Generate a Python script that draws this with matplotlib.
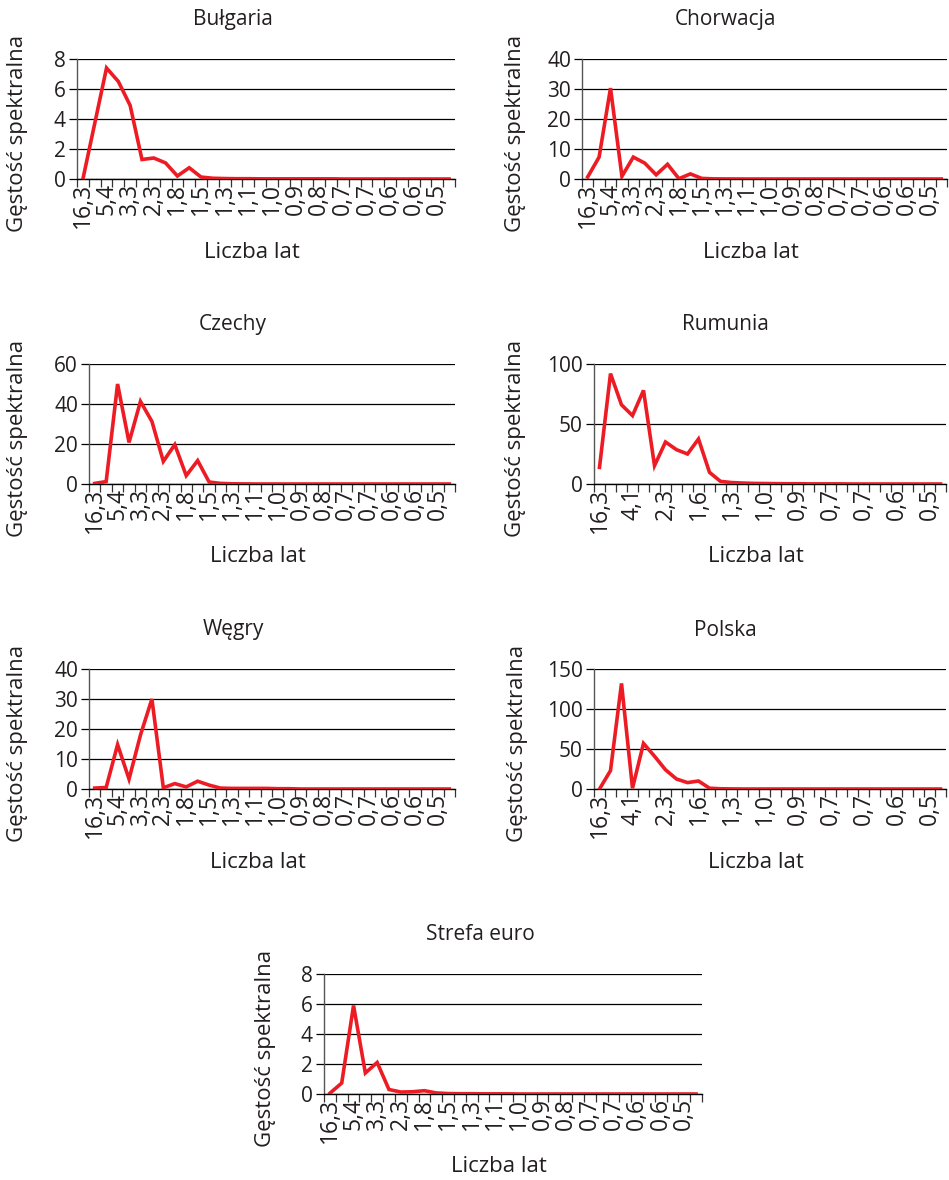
import numpy as np
import matplotlib
matplotlib.use('Agg')
from matplotlib import pyplot as plt

plt.rcParams['font.family'] = ['Open Sans', 'DejaVu Sans']

# okresy (liczba lat) dla kolejnych częstotliwości
lata = ['16,3', '8,2', '5,4', '4,1', '3,3', '2,7', '2,3', '2,0', '1,8', '1,6',
        '1,5', '1,4', '1,3', '1,2', '1,1', '1,0', '1,0', '0,9', '0,9', '0,8',
        '0,8', '0,7', '0,7', '0,7', '0,7', '0,6', '0,6', '0,6', '0,6', '0,5',
        '0,5', '0,5']

bulgaria = [0.0, 3.7, 7.4, 6.5, 4.9, 1.3, 1.4, 1.07, 0.2, 0.75, 0.13, 0.05,
            0.03, 0.02, 0.02, 0.01, 0.01, 0.01, 0.01, 0.01, 0.01, 0.01, 0.0, 0.0,
            0.0, 0.0, 0.0, 0.0, 0.0, 0.0, 0.0, 0.0]
chorwacja = [0.7, 7.3, 30.3, 0.9, 7.3, 5.3, 1.4, 4.9, 0.1, 1.7, 0.2, 0.05,
             0.02, 0.01, 0.0, 0.0, 0.0, 0.0, 0.0, 0.0, 0.0, 0.0, 0.0, 0.0,
             0.0, 0.0, 0.0, 0.0, 0.0, 0.0, 0.0, 0.0]
czechy = [0.3, 1.2, 50.0, 20.8, 41.3, 31.3, 11.3, 19.7, 4.2, 11.7, 1.0, 0.3,
          0.1, 0.05, 0.0, 0.0, 0.0, 0.0, 0.0, 0.0, 0.0, 0.0, 0.0, 0.0,
          0.0, 0.0, 0.0, 0.0, 0.0, 0.0, 0.0, 0.0]
rumunia = [13.9, 92.0, 66.0, 57.0, 78.0, 15.3, 35.0, 28.6, 25.0, 37.5, 9.7, 2.2,
           1.2, 0.8, 0.5, 0.4, 0.3, 0.2, 0.2, 0.1, 0.1, 0.1, 0.1, 0.0,
           0.0, 0.0, 0.0, 0.0, 0.0, 0.0, 0.0, 0.0]
wegry = [0.3, 0.5, 14.8, 3.3, 18.0, 30.0, 0.4, 1.8, 0.7, 2.6, 1.3, 0.3,
         0.2, 0.2, 0.2, 0.2, 0.1, 0.1, 0.0, 0.0, 0.0, 0.0, 0.0, 0.0,
         0.0, 0.0, 0.0, 0.0, 0.0, 0.0, 0.0, 0.0]
polska = [0.0, 23.0, 132.0, 1.0, 57.0, 41.0, 24.0, 12.5, 8.0, 10.0, 1.0, 0.3,
          0.1, 0.0, 0.0, 0.0, 0.0, 0.0, 0.0, 0.0, 0.0, 0.0, 0.0, 0.0,
          0.0, 0.0, 0.0, 0.0, 0.0, 0.0, 0.0, 0.0]
strefa_euro = [0.05, 0.73, 5.9, 1.4, 2.1, 0.3, 0.13, 0.15, 0.22, 0.07, 0.03, 0.02,
               0.02, 0.01, 0.01, 0.01, 0.0, 0.0, 0.0, 0.0, 0.0, 0.0, 0.0, 0.0,
               0.0, 0.0, 0.0, 0.0, 0.0, 0.0, 0.0, 0.0]

panele = [
    # tytuł, dane, max osi y, krok, co który opis, [lewa, prawa, góra, dół] w px, x tytułu, x opisu y
    ('Bułgaria', bulgaria, 8, 2, 2, [77, 455, 59, 179], 233, 18),
    ('Chorwacja', chorwacja, 40, 10, 2, [582, 947, 59, 179], 725, 515),
    ('Czechy', czechy, 60, 20, 2, [89, 455, 364, 484], 233, 18),
    ('Rumunia', rumunia, 100, 50, 3, [594, 946, 364, 484], 725, 515),
    ('Węgry', wegry, 40, 10, 2, [89, 455, 669, 789], 233, 18),
    ('Polska', polska, 150, 50, 3, [594, 946, 669, 789], 725, 517),
    ('Strefa euro', strefa_euro, 8, 2, 2, [324, 702, 974, 1094], 480, 265),
]

W, H = 949, 1180
kolor_txt = '#231f20'
fig = plt.figure(figsize=(W / 100, H / 100), dpi=100)

for tytul, dane, ymax, krok, co, (l, r, t, b), tx, yx in panele:
    ax = fig.add_axes([l / W, 1 - b / H, (r - l) / W, (b - t) / H])
    x = np.arange(len(dane))
    ax.plot(x, dane, color='#ed1c24', linewidth=2.6, solid_joinstyle='miter', zorder=3)
    ax.set_xlim(-0.5, len(dane) - 0.5)
    ax.set_ylim(0, ymax)
    ax.set_yticks(np.arange(0, ymax + krok / 2, krok))
    ax.grid(axis='y', color='black', linewidth=0.9)
    ax.tick_params(axis='y', length=6, width=0.9, color='black', labelsize=15,
                   labelcolor=kolor_txt, pad=2)
    # opisy osi x pod kategoriami, kreski między kategoriami
    ax.set_xticks(x[::co], [lata[i] for i in x[::co]], rotation=90)
    ax.set_xticks(np.arange(-0.5, len(dane)), minor=True)
    ax.tick_params(axis='x', which='major', length=0, labelsize=16.5,
                   labelcolor=kolor_txt, pad=3)
    ax.tick_params(axis='x', which='minor', length=6, width=0.9, color='#333333')
    for s in ['top', 'right']:
        ax.spines[s].set_visible(False)
    ax.spines['left'].set_color('#555555')
    ax.spines['left'].set_linewidth(1.0)
    ax.spines['bottom'].set_color('black')
    ax.spines['bottom'].set_linewidth(1.0)
    ax.set_axisbelow(True)
    # tytuł, opisy osi
    fig.text(tx / W, 1 - (t - 39) / H, tytul, ha='center', va='center',
             fontsize=15, color=kolor_txt)
    fig.text(((l + r) / 2 - 14) / W, 1 - (b + 73) / H, 'Liczba lat', ha='center',
             va='center', fontsize=16, color=kolor_txt)
    fig.text(yx / W, 1 - (t + 74) / H, 'Gęstość spektralna', ha='center',
             va='center', rotation=90, fontsize=16, color=kolor_txt)

fig.savefig('out.png', dpi=100)
